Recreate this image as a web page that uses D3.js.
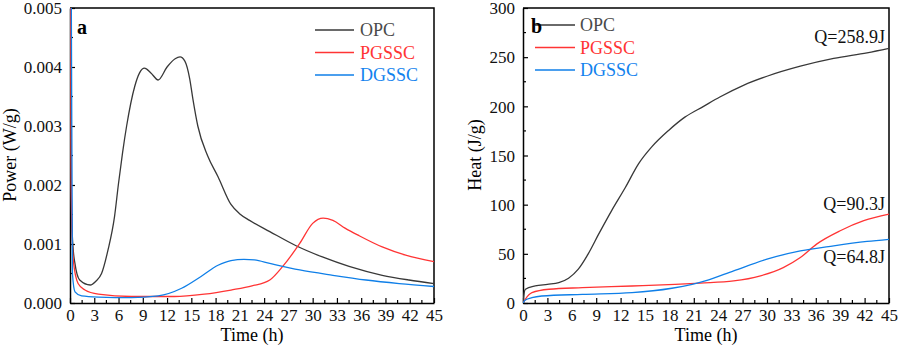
<!DOCTYPE html>
<html>
<head>
<meta charset="utf-8">
<script src="https://cdn.jsdelivr.net/npm/d3@7"></script>
<style>
  body { margin: 0; background: #fff; }
  svg { display: block; font-family: "Liberation Serif", "Times New Roman", serif; }
</style>
</head>
<body>
<svg id="chart" width="899" height="356"></svg>
<script>
// time (h), value pairs
const timeTicks = [0, 3, 6, 9, 12, 15, 18, 21, 24, 27, 30, 33, 36, 39, 42, 45];

const opcPower = [
  [0, 0.0062], [0.1, 0.0028], [0.2, 0.00146], [0.4, 0.0009], [0.6, 0.00068], [1.2, 0.00039],
  [2.5, 0.000305], [3.2, 0.00037], [3.9, 0.0005], [4.7, 0.0009], [5.5, 0.00146], [6.0, 0.00203],
  [6.5, 0.00255], [7.0, 0.003], [8.0, 0.00367], [8.6, 0.0039], [9.2, 0.00398], [10.0, 0.0039],
  [10.9, 0.00378], [12.0, 0.004], [13.0, 0.00414], [13.6, 0.00417], [14.2, 0.0041], [14.8, 0.0038],
  [15.2, 0.00345], [15.8, 0.003], [17.0, 0.0025], [18.3, 0.00214], [19.9, 0.00167], [21.0, 0.00151],
  [22.2, 0.0014], [24.7, 0.00121], [27.95, 0.00097], [31.2, 0.00078], [34.5, 0.00062],
  [38.6, 0.00047], [41.9, 0.00039], [45, 0.00033]
];
const pgsscPower = [
  [0, 0.0062], [0.08, 0.0055], [0.15, 0.002], [0.4, 0.00073], [1.0, 0.00033], [1.85, 0.00022],
  [3.5, 0.00015], [7.6, 0.00011], [12.9, 0.00011], [16.6, 0.00015], [19.9, 0.00022],
  [22.5, 0.00029], [24.7, 0.00039], [26.3, 0.00062], [28.4, 0.00101], [30.0, 0.00135],
  [31.3, 0.00144], [32.5, 0.0014], [34.0, 0.00127], [35.75, 0.00114], [38.6, 0.00095],
  [41.5, 0.00081], [45, 0.0007]
];
const dgsscPower = [
  [0, 0.0062], [0.15, 0.0055], [0.3, 0.0005], [0.62, 0.00019], [1.44, 0.00012], [3.5, 0.0001],
  [7.6, 0.00009], [10.9, 0.00012], [13.8, 0.00025], [16.2, 0.00045], [18.3, 0.00064],
  [19.9, 0.00072], [21.5, 0.00074], [22.8, 0.00073], [24.7, 0.00067], [28.4, 0.00056],
  [32.5, 0.00047], [36.6, 0.00039], [40.7, 0.00033], [45, 0.00028]
];

const opcHeat = [
  [0, 0], [0.1, 8], [0.3, 14], [1.5, 17.3], [3, 19], [4.4, 20.7], [5.6, 25.2], [6.8, 34.4],
  [8, 49.7], [9.3, 70], [10.9, 94], [12.6, 117.7], [14.2, 141.5], [15.8, 158.5], [17.9, 175.5],
  [19.9, 189], [22.2, 200], [24.2, 209.5], [27.1, 221.4], [30, 230.6], [34.1, 240.8],
  [38.2, 248.7], [42.3, 254.4], [45, 258.9]
];
const pgsscHeat = [
  [0, 0], [0.3, 4], [1.1, 10.5], [3.2, 14], [7.3, 15.6], [13.4, 17.3], [18.7, 19], [21.8, 20.3],
  [25.9, 22.4], [29.2, 27.6], [32, 36], [34.1, 46.2], [36.1, 59.9], [39, 73.5], [41.9, 83.7],
  [45, 90.3]
];
const dgsscHeat = [
  [0, 0], [0.3, 3], [1.1, 5.4], [2.3, 7.1], [7.3, 8.8], [13.4, 10.5], [18.3, 15], [20.8, 19],
  [22.4, 22.4], [25.9, 32.7], [30, 44.6], [34.1, 53], [38.2, 58.2], [42.3, 62.6], [45, 64.8]
];

const seriesNames = ['OPC', 'PGSSC', 'DGSSC'];
const lineColors = ['#383838', '#ff3434', '#0f7fe8'];
const textColors = ['#4a4a4a', '#ff3434', '#1282ee'];

const powerTicks = [0, 0.001, 0.002, 0.003, 0.004, 0.005];
const heatTicks = [0, 50, 100, 150, 200, 250, 300];
const heatNotes = [['Q=258.9J', 43], ['Q=90.3J', 210], ['Q=64.8J', 263]];

const FONT = '"Liberation Serif", "Times New Roman", serif';
const svg = d3.select('#chart');

function drawPanel(opts) {
  const { left, right, top, bottom, yDomain, yTicks, yMinor, yFormat, series, id } = opts;

  const x = d3.scaleLinear().domain([0, 45]).range([left, right]);
  const y = d3.scaleLinear().domain(yDomain).range([bottom, top]);

  const g = svg.append('g');

  g.append('clipPath').attr('id', id)
    .append('rect')
    .attr('x', left).attr('y', top)
    .attr('width', right - left + 2).attr('height', bottom - top);

  // bottom axis, ticks pointing inward
  const xMinor = d3.range(0, 45.01, 1.5).filter(v => v % 3 !== 0);
  const xAxis = g.append('g').attr('transform', `translate(0,${bottom})`);
  xAxis.call(d3.axisBottom(x).tickValues(timeTicks).tickSize(-5).tickPadding(6).tickSizeOuter(0));
  xAxis.append('g').selectAll('line').data(xMinor).join('line')
    .attr('x1', d => x(d)).attr('x2', d => x(d))
    .attr('y1', 0).attr('y2', -3);

  const yAxis = g.append('g').attr('transform', `translate(${left},0)`);
  yAxis.call(d3.axisLeft(y).tickValues(yTicks).tickFormat(yFormat).tickSize(-5).tickPadding(8).tickSizeOuter(0));
  yAxis.append('g').selectAll('line').data(yMinor).join('line')
    .attr('y1', d => y(d)).attr('y2', d => y(d))
    .attr('x1', 0).attr('x2', 3);

  [xAxis, yAxis].forEach(a => {
    a.attr('font-family', FONT);
    a.selectAll('text').attr('font-size', 17).attr('fill', '#111');
    a.selectAll('line').attr('stroke', '#000').attr('stroke-width', 1.2);
    a.select('.domain').attr('stroke', '#000').attr('stroke-width', 1.5);
  });
  xAxis.selectAll('.tick text').attr('dy', '0.71em');
  yAxis.selectAll('.tick text').attr('dy', '0.34em');

  // frame top and right
  g.append('path')
    .attr('d', `M${left},${top}H${right}V${bottom}`)
    .attr('fill', 'none')
    .attr('stroke', '#000')
    .attr('stroke-width', 1.5);

  // curves on top of the axes, as in the original
  const line = d3.line()
    .x(d => x(d[0]))
    .y(d => y(d[1]))
    .curve(d3.curveMonotoneX);

  g.append('g').attr('clip-path', `url(#${id})`)
    .selectAll('path')
    .data(series)
    .join('path')
    .attr('d', d => line(d))
    .attr('fill', 'none')
    .attr('stroke', (d, i) => lineColors[i])
    .attr('stroke-width', 1.3);

  g.append('text')
    .attr('x', (left + right) / 2).attr('y', 341)
    .attr('text-anchor', 'middle')
    .attr('font-size', 18)
    .text('Time (h)');

  return { g, x, y };
}

// panel a
const pa = drawPanel({
  id: 'clip-a', left: 70, right: 434, top: 8, bottom: 303,
  yDomain: [0, 0.005], yTicks: powerTicks,
  yMinor: d3.range(0.0005, 0.005, 0.001),
  yFormat: d3.format('.3f'),
  series: [opcPower, pgsscPower, dgsscPower]
});

pa.g.append('text')
  .attr('transform', 'translate(16,155) rotate(-90)')
  .attr('text-anchor', 'middle')
  .attr('font-size', 18)
  .text('Power (W/g)');

pa.g.append('text')
  .attr('x', 77).attr('y', 34)
  .attr('font-size', 20).attr('font-weight', 'bold')
  .text('a');

const legA = pa.g.append('g');
seriesNames.forEach((name, i) => {
  const yy = 30 + i * 22.5;
  legA.append('line').attr('x1', 315).attr('x2', 354).attr('y1', yy).attr('y2', yy)
    .attr('stroke', lineColors[i]).attr('stroke-width', 1.3);
  legA.append('text').attr('x', 360).attr('y', yy).attr('dy', '0.35em')
    .attr('font-size', 18).attr('fill', textColors[i]).text(name);
});

// panel b
const pb = drawPanel({
  id: 'clip-b', left: 523, right: 889, top: 8, bottom: 303,
  yDomain: [0, 300], yTicks: heatTicks,
  yMinor: d3.range(25, 300, 50),
  yFormat: d3.format('d'),
  series: [opcHeat, pgsscHeat, dgsscHeat]
});

pb.g.append('text')
  .attr('transform', 'translate(481,155) rotate(-90)')
  .attr('text-anchor', 'middle')
  .attr('font-size', 18)
  .text('Heat (J/g)');

const legB = pb.g.append('g');
seriesNames.forEach((name, i) => {
  const yy = 25 + i * 22.5;
  legB.append('line').attr('x1', 535).attr('x2', 575).attr('y1', yy).attr('y2', yy)
    .attr('stroke', lineColors[i]).attr('stroke-width', 1.3);
  legB.append('text').attr('x', 580).attr('y', yy).attr('dy', '0.35em')
    .attr('font-size', 18).attr('fill', textColors[i]).text(name);
});

pb.g.append('text')
  .attr('x', 531).attr('y', 33)
  .attr('font-size', 20).attr('font-weight', 'bold')
  .text('b');

pb.g.selectAll('.note')
  .data(heatNotes)
  .join('text')
  .attr('class', 'note')
  .attr('x', 885).attr('y', d => d[1])
  .attr('text-anchor', 'end')
  .attr('font-size', 18)
  .attr('fill', '#111')
  .text(d => d[0]);
</script>
</body>
</html>
